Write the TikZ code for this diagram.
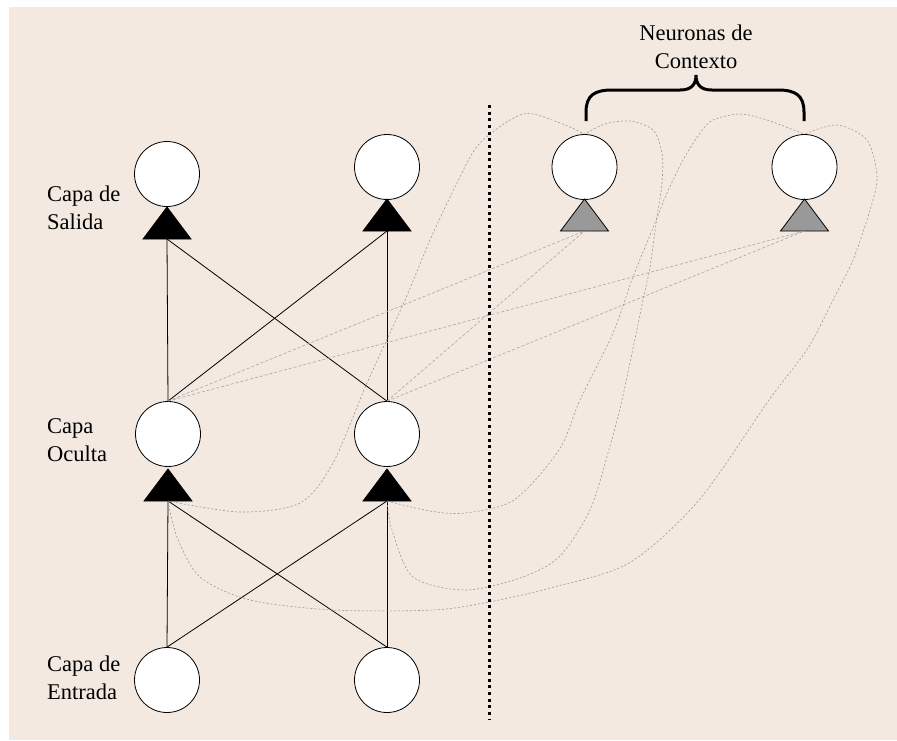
\documentclass[tikz,border=0pt]{standalone}
\usepackage{fontspec}
\setmainfont{Liberation Serif}
\definecolor{fondo}{RGB}{243,233,224}

\begin{document}
\begin{tikzpicture}
	[x=1pt,y=-1pt,
	 neurona/.style={circle,draw,fill=white,minimum size=65pt,inner sep=0pt,line width=0.8pt},
	 capa/.style={align=left,anchor=base west,inner sep=0pt,font=\fontsize{22.5}{28}\selectfont},
	 peso/.style={line width=0.8pt},
	 retro/.style={draw=black!35,line width=0.6pt,dash pattern=on 3pt off 2pt},
	 copia/.style={draw=black!40,line width=0.6pt,dash pattern=on 2pt off 2pt}]

	\useasboundingbox (0,0) rectangle (897,740);
	\fill[fondo] (9,7) rectangle (897,740);

	% neuronas
	\node[neurona] (sal1) at (167,174) {};
	\node[neurona] (sal2) at (387,167) {};
	\node[neurona] (oc1) at (168,434) {};
	\node[neurona] (oc2) at (387,434) {};
	\node[neurona] (ent1) at (167,680) {};
	\node[neurona] (ent2) at (387,680) {};
	\node[neurona] (ctx1) at (584.5,167) {};
	\node[neurona] (ctx2) at (804.5,167) {};

	\coordinate (tsal1) at (167,239);
	\coordinate (tsal2) at (387,231);
	\coordinate (toc1) at (168,501);
	\coordinate (toc2) at (387,501);
	\coordinate (tctx1) at (584.5,231);
	\coordinate (tctx2) at (804.5,231);

	\foreach \t in {tsal1,tsal2,toc1,toc2}
	{
	 \filldraw[line width=0.8pt] (\t) ++(-24,0) -- ++(48,0) -- ++(-24,-32) -- cycle;
	}
	\foreach \t in {tctx1,tctx2}
	{
	 \filldraw[fill=black!40,line width=0.8pt] (\t) ++(-24,0) -- ++(48,0) -- ++(-24,-32) -- cycle;
	}

	% pesos
	\foreach \e in {ent1,ent2}
	{
	 \foreach \o in {toc1,toc2}
	  \draw[peso] (\e.north) -- (\o);
	}
	\foreach \o in {oc1,oc2}
	{
	 \foreach \s in {tsal1,tsal2}
	  \draw[peso] (\o.north) -- (\s);
	}

	% contexto -> oculta
	\foreach \o in {oc1,oc2}
	{
	 \foreach \c in {tctx1,tctx2}
	  \draw[retro] (\o.north) -- (\c);
	}

	% oculta -> contexto
	\draw[copia] plot[smooth] coordinates {(toc1) (240,512) (300,503) (333,463) (367,383) (405,300) (430,240) (457,183) (480,143) (523,114) (560,123) (ctx1.north)};
	\draw[copia] plot[smooth] coordinates {(toc1) (177,537) (200,577) (250,600) (333,610) (433,610) (489,602) (550,588) (629,563) (699,500) (769,400) (808,348) (833,300) (853,260) (870,210) (877,177) (867,140) (837,125) (ctx2.north)};
	\draw[copia] plot[smooth] coordinates {(toc2) (430,511) (465,513) (514,500) (559,450) (580,400) (613,333) (633,277) (655,223) (667,193) (683,160) (700,133) (713,120) (740,114) (767,120) (ctx2.north)};
	\draw[copia] plot[smooth] coordinates {(toc2) (392,530) (413,577) (465,590) (520,578) (559,557) (590,510) (608,453) (622,400) (643,300) (650,267) (657,217) (662,183) (662,153) (653,130) (630,121) (605,124) (ctx1.north)};

	\draw[line width=3pt,dash pattern=on 3pt off 3.67pt] (489,105) -- (489,720);

	% llave
	\draw[line width=3pt] (586,121) -- (586,112) .. controls (586,95) and (595,90) .. (612,90) -- (680,90) .. controls (692,90) and (696,84) .. (696,75) .. controls (696,84) and (700,90) .. (712,90) -- (778,90) .. controls (795,90) and (804,95) .. (804,112) -- (804,121);

	\node[capa] (lsal) at (47,229) {Capa de\\Salida};
	\node[capa] (loc) at (47,461) {Capa\\Oculta};
	\node[capa] (lent) at (47,699) {Capa de\\Entrada};
	\node[capa,align=center,anchor=base] (lctx) at (696,68) {Neuronas de\\Contexto};

\end{tikzpicture}
\end{document}
